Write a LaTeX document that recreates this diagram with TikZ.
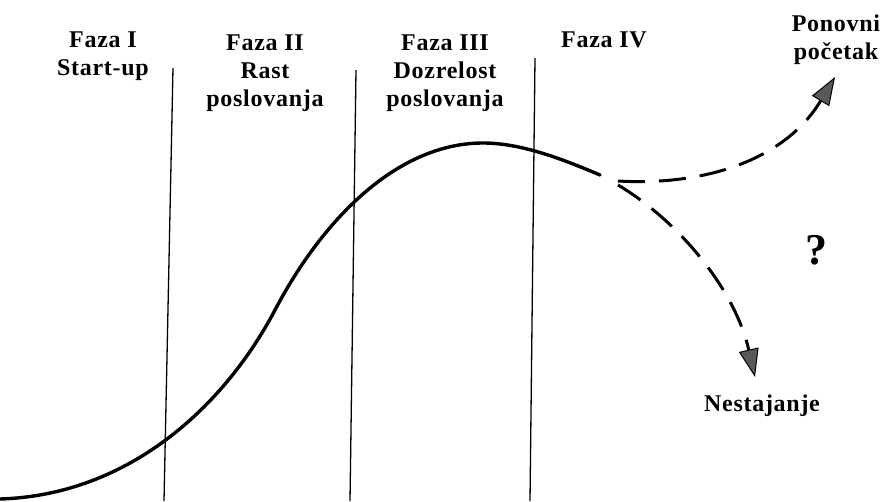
\documentclass[tikz,border=0pt]{standalone}
\usepackage{fontspec}
\setmainfont{Liberation Serif}[LetterSpace=3]
\usepackage{tikz}
\usetikzlibrary{arrows.meta}

\begin{document}
\begin{tikzpicture}[x=1pt,y=-1pt]
	\useasboundingbox (0,0) rectangle (882,501);
	\begin{scope}
		[
			phase/.style={inner sep=0pt, anchor=north, align=center,
				font=\fontsize{24}{28}\selectfont\bfseries},
			outcome/.style={phase},
			query/.style={inner sep=0pt, font=\fontsize{44}{44}\selectfont\bfseries},
		]
		\node(faza1)[phase] at (103,32) {Faza I\\Start-up};
		\node(faza2)[phase] at (265,35) {Faza II\\Rast\\poslovanja};
		\node(faza3)[phase] at (445,35) {Faza III\\Dozrelost\\poslovanja};
		\node(faza4)[phase] at (604,32) {Faza IV};
		\node(ponovni)[outcome] at (836,15) {Ponovni\\početak};
		\node(nestajanje)[outcome] at (762,395) {Nestajanje};
		\node(upit)[query] at (816,250) {?};

		% granice faza
		\coordinate (g1t) at (173,68);  \coordinate (g1b) at (164,501);
		\coordinate (g2t) at (356,70);  \coordinate (g2b) at (350,501);
		\coordinate (g3t) at (535,58);  \coordinate (g3b) at (530,501);

		% krivulja
		\coordinate (pocetak) at (0,499);
		\coordinate (prijevoj) at (275,310);
		\coordinate (vrh) at (483,143);
		\coordinate (kraj) at (600,175);

		% krajevi grana
		\coordinate (gore) at (618,181);
		\coordinate (dolje) at (618,185);
		\coordinate (vrhgore) at (835,77);
		\coordinate (vrhdolje) at (755,377);
	\end{scope}

	\begin{scope}
		[ divider/.style = {line width=1.3pt},
			lifecycle/.style = {line width=3.4pt, line cap=round},
			branch/.style = {line width=3pt, dash pattern=on 27pt off 14pt,
				-{Triangle[length=28pt, width=20pt, fill=black!65, line width=1pt]}},
		]
		\path
		(g1t) edge[divider]	(g1b)
		(g2t) edge[divider]	(g2b)
		(g3t) edge[divider]	(g3b);

		\draw[lifecycle] (pocetak) .. controls (130,495) and (225,405) .. (prijevoj)
			.. controls (325,215) and (400,143) .. (vrh)
			.. controls (520,143) and (560,158) .. (kraj);

		\draw[branch] (gore) .. controls (705,186) and (785,160) .. (vrhgore);
		\draw[branch] (dolje) .. controls (680,222) and (735,290) .. (vrhdolje);
	\end{scope}
\end{tikzpicture}
\end{document}
